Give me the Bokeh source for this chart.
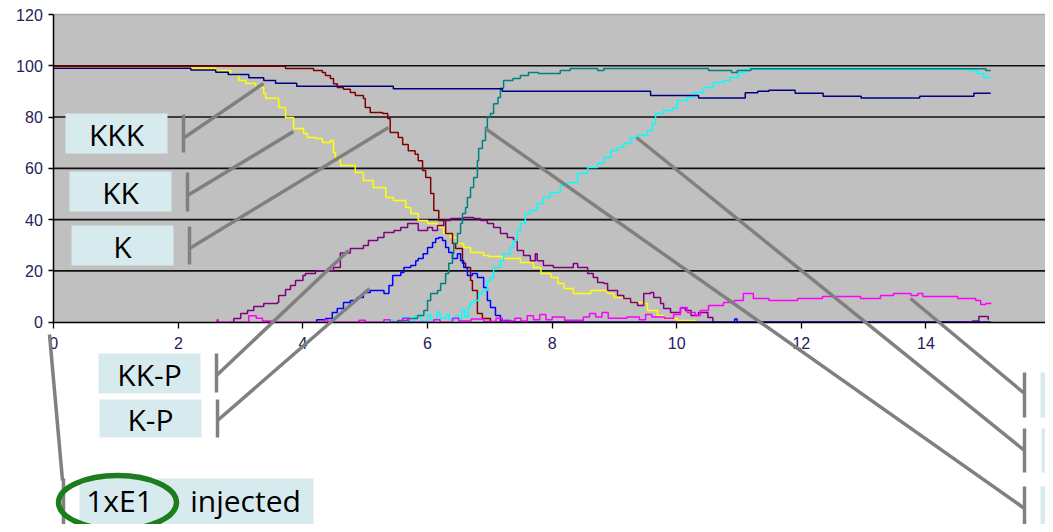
from bokeh.plotting import figure
from bokeh.models import Range1d, LinearAxis, FixedTicker
from bokeh.embed import file_html
from bokeh.resources import INLINE
from bokeh.core.properties import value

# ---------------- data (time, amount) ----------------
x_ticks = [0, 2, 4, 6, 8, 10, 12, 14, 16]
y_ticks = [0, 20, 40, 60, 80, 100, 120]
grid_levels = [20, 40, 60, 80, 100]

kkk_t = [0, 2.2, 2.6, 2.8, 3.13, 3.37, 3.56, 3.9, 5.45, 7.2, 9.58, 10.35, 11.1, 11.3, 11.48, 11.9, 12.35, 12.96, 13.9, 14.77, 15.04]
kkk_v = [99, 98.4, 97.5, 96.6, 95.3, 94.3, 93.2, 92, 91, 90.1, 88.4, 87.4, 89.5, 90.1, 90.5, 89.3, 88.1, 87.4, 88.1, 89.3, 89.3]

kk_t = [0, 2.6, 2.84, 2.97, 3.08, 3.24, 3.37, 3.4, 3.61, 3.72, 3.85, 4.01, 4.07, 4.2, 4.31, 4.44, 4.49, 4.52, 4.6, 4.84,
        4.97, 5.13, 5.33, 5.45, 5.65, 5.73, 5.85, 6.0, 6.16, 6.26, 6.37, 6.48, 6.58, 6.69, 6.9, 6.98, 7.2, 7.49, 7.7, 7.82,
        7.98, 8.09, 8.19, 8.34, 8.62, 8.89, 8.99, 9.15, 9.26, 9.47, 9.53, 9.69, 9.79, 10.01, 10.3]
kk_v = [99, 98.2, 96.6, 94.3, 93.1, 91.5, 89.2, 87.3, 83.7, 79.8, 75.5, 73.6, 72, 71.6, 70.1, 70.9, 66.2, 63.8, 61.1, 58.4,
        55.3, 52.5, 48.6, 47.5, 44.7, 42.4, 39.7, 38.5, 36.9, 34.6, 33, 30.7, 29.1, 27.2, 26, 25.6, 24.8, 23.3, 21.3, 19,
        17.4, 15.1, 13.1, 11.2, 12.4, 11.2, 9.6, 9.2, 7.7, 7.3, 4.6, 2.6, 1.4, 0.7, 0]

k_t = [0, 3.72, 4.17, 4.31, 4.36, 4.44, 4.49, 4.55, 4.65, 4.76, 4.84, 4.97, 5.0, 5.08, 5.28, 5.36, 5.4, 5.53, 5.6, 5.69,
       5.8, 5.85, 5.92, 5.97, 6.05, 6.1, 6.18, 6.29, 6.4, 6.45, 6.56, 6.61, 6.69, 6.72, 6.8, 6.88, 7.01, 15.04]
k_v = [99.8, 98.9, 98.2, 97.4, 96.2, 95, 93, 91.5, 90.8, 89.6, 88.4, 87.2, 83.7, 81.8, 81.4, 79.4, 74, 72, 69.3, 66.9,
       65.5, 63, 59.2, 56.4, 50.2, 43.6, 39.7, 34.6, 30.7, 28.7, 23, 21.3, 16.3, 12.4, 3.4, 1.4, 0, 0]

kkp_t = [2.84, 2.89, 3.0, 3.11, 3.21, 3.37, 3.59, 3.61, 3.72, 3.8, 3.88, 4.0, 4.04, 4.2, 4.49, 4.6, 4.76, 4.97, 5.05, 5.2,
         5.3, 5.46, 5.57, 5.68, 5.85, 6.0, 6.08, 6.16, 6.26, 6.37, 6.58, 6.74, 6.85, 6.96, 7.06, 7.17, 7.28, 7.38, 7.44, 7.54,
         7.65, 7.73, 7.76, 7.86, 8.02, 8.34, 8.41, 8.57, 8.66, 8.73, 8.83, 8.89, 9.05, 9.15, 9.26, 9.37, 9.47, 9.58, 9.63, 9.74,
         9.79, 9.9, 10.06, 10.14, 10.23, 10.35, 10.5, 10.58, 14.75, 14.85, 15.0]
kkp_v = [0, 1.4, 3.4, 4.6, 6.1, 7.3, 7.7, 10.4, 12.8, 14.3, 16.3, 18.2, 19, 20, 21.3, 27, 28.7, 29.9, 31.9, 33,
         35, 35.8, 36.9, 38.5, 35.8, 36.9, 35.8, 37.7, 39.7, 40.4, 40.8, 40.4, 39.7, 38.5, 36.9, 34.6, 33, 31.9, 28, 26,
         24, 26.7, 24, 22.1, 21.3, 22.9, 21.3, 19, 17.4, 15.5, 15.1, 12.4, 10.4, 9.2, 7.7, 6.5, 11.2, 11.6, 9.6, 7.3,
         5.3, 3.8, 5.5, 4.6, 2.6, 3.8, 1.8, 0, 0.5, 2.2, 1]

kp_t = [4.2, 4.22, 4.36, 4.47, 4.55, 4.65, 4.76, 4.87, 4.97, 5.08, 5.3, 5.38, 5.44, 5.57, 5.62, 5.73, 5.81, 5.85, 5.93, 6.0,
        6.08, 6.13, 6.18, 6.24, 6.29, 6.34, 6.4, 6.48, 6.53, 6.58, 6.64, 6.72, 6.8, 6.9, 6.96, 7.01, 7.09, 7.17, 7.33, 10.93,
        10.97, 15.04]
kp_v = [0, 1, 1.4, 3.8, 5.3, 7.7, 8.5, 9.6, 11.6, 12.4, 11.2, 14.3, 18.2, 19.4, 21.3, 22.1, 24, 24.8, 26.7, 29.1,
        31.1, 32.6, 33, 31.9, 29.1, 27.2, 24.8, 26.7, 24, 21.3, 18.2, 19, 17.4, 13.5, 8.5, 5.7, 2.6, 0.7, 0, 1.2,
        0, 0]

kkpp_t = [5.41, 5.52, 5.68, 5.84, 5.94, 6.0, 6.05, 6.16, 6.21, 6.29, 6.34, 6.4, 6.42, 6.48, 6.53, 6.56, 6.61, 6.64, 6.69, 6.74,
          6.8, 6.82, 6.88, 6.93, 6.96, 7.01, 7.06, 7.13, 7.17, 7.22, 7.37, 7.49, 7.62, 7.78, 8.13, 8.29, 8.73, 8.83, 10.51, 10.88,
          10.97, 11.19, 14.96, 15.04]
kkpp_v = [0, 0.7, 1.4, 2.6, 4.6, 8.5, 11.2, 12.4, 15.1, 19, 23, 26.7, 30.7, 34.6, 38.5, 42.4, 44.7, 48.6, 52.5, 56.4,
          63, 67.7, 70.9, 75.9, 79.8, 81.4, 85.2, 87.6, 91.2, 94.3, 95, 96.2, 97.4, 97, 98.2, 98.9, 98.2, 98.9, 98.2, 97.4,
          98.2, 98.8, 98.2, 98.2]

kpp_t = [5.2, 5.35, 5.45, 5.6, 5.7, 5.8, 5.9, 6.0, 6.05, 6.15, 6.2, 6.3, 6.35, 6.45, 6.5, 6.55, 6.6, 6.65, 6.69, 6.74,
         6.82, 6.88, 6.96, 7.01, 7.06, 7.17, 7.22, 7.33, 7.38, 7.44, 7.49, 7.57, 7.65, 7.76, 7.86, 7.97, 8.13, 8.24, 8.41, 8.57,
         8.73, 8.83, 8.94, 9.05, 9.15, 9.26, 9.37, 9.53, 9.61, 9.66, 9.79, 9.93, 10.01, 10.17, 10.27, 10.43, 10.59, 10.75, 10.86, 10.99,
         11.1, 14.72, 14.83, 14.93, 15.04]
kpp_v = [0, 1, 0, 2, 0.5, 2.5, 0.5, 3, 1, 4, 1.5, 3, 1, 2.5, 1, 5, 2, 6, 7.7, 8.5,
         11.2, 12.4, 16.3, 17.4, 21.3, 24, 26.7, 29.1, 31.9, 35.8, 38.5, 42.4, 43.6, 46.3, 48.6, 50.6, 53.3, 54.5, 58, 60.3,
         61.9, 64.2, 67, 68.1, 69.7, 72, 72.8, 74.8, 77.5, 81.4, 82.6, 83.4, 86.5, 87.6, 89.6, 91.5, 93.5, 94.3, 95.4, 97.4,
         98.6, 98.2, 97, 95.4, 95.4]

kkkp_t = [2.6, 2.62, 2.64, 3.1, 3.13, 3.25, 3.35, 3.5, 4.3, 4.35, 4.4, 4.9, 5.0, 5.3, 5.4, 5.6, 5.7, 6.1, 6.2, 6.4,
          6.5, 6.7, 6.9, 7.1, 7.2, 7.4, 7.5, 7.6, 7.7, 7.8, 7.9, 8.0, 8.2, 8.5, 8.6, 8.7, 8.8, 8.9, 9.2, 9.4,
          9.5, 9.6, 9.8, 9.95, 10.06, 10.17, 10.3, 10.38, 10.51, 10.75, 10.92, 11.07, 11.23, 11.48, 11.94, 12.34, 12.95, 13.27, 13.48, 13.76,
          13.87, 13.95, 14.51, 14.8, 14.88, 14.96, 15.04]
kkkp_v = [0, 1, 0, 0, 2.5, 1.5, 0.5, 0, 0, 1, 0, 0.8, 0, 1, 0, 1.5, 0, 1, 0, 1.5,
          0.5, 1.2, 0.3, 1.5, 0.5, 1.5, 0.5, 2.5, 1, 3, 1, 2, 0.8, 2, 3.4, 2, 3.8, 1.5, 2, 1,
          3, 2, 1.5, 3, 5.7, 3.8, 2.6, 4.6, 6.5, 7.7, 8.5, 11.2, 9.2, 8.5, 9.2, 10, 9.2, 10.4, 11.2, 10.4,
          11.2, 10, 9.2, 8.5, 6.9, 7.3, 7.7]

# ---------------- layout helpers (picture pixel -> data) ----------------
W, H = 1045, 524
OFF = 0
X0PX, X16PX = 53.3, 1050.0
Y0PX, Y120PX = 321.7, 14.0
SX = (X16PX - X0PX) / 16.0
SY = (Y0PX - Y120PX) / 120.0


def dx(px):
    return (px - X0PX) / SX


def dy(py):
    return (Y0PX - py) / SY


p = figure(width=W, height=H,
           x_range=Range1d(dx(OFF), dx(OFF + W)),
           y_range=Range1d(dy(OFF + H), dy(OFF)),
           output_backend="svg", toolbar_location=None,
           x_axis_type=None, y_axis_type=None,
           min_border=0, min_border_left=0, min_border_right=0,
           min_border_top=0, min_border_bottom=0)
p.outline_line_color = None
p.background_fill_color = "white"
p.border_fill_color = "white"
p.xgrid.visible = False
p.ygrid.visible = False

# plot area background
p.quad(left=[x_ticks[0]], right=[x_ticks[-1]], bottom=[y_ticks[0]], top=[y_ticks[-1]],
       fill_color="#c0c0c0", line_color=None, level="underlay")
# top/right border
p.line([x_ticks[0], x_ticks[-1], x_ticks[-1]], [y_ticks[-1], y_ticks[-1], y_ticks[0]],
       line_color="#a8a8a8", line_width=1.5, level="underlay")
# grid lines
p.segment(x0=[x_ticks[0]] * len(grid_levels), x1=[x_ticks[-1]] * len(grid_levels),
          y0=grid_levels, y1=grid_levels, line_color="#101010", line_width=1.6, level="underlay")

# axes
label_color = "#27215c"
xaxis = LinearAxis(fixed_location=0, bounds=(0, 16), ticker=FixedTicker(ticks=x_ticks))
xaxis.major_tick_out = 6
xaxis.major_tick_in = 0
xaxis.minor_tick_out = 0
xaxis.axis_line_color = "black"
xaxis.axis_line_width = 1.5
xaxis.major_tick_line_width = 1.3
xaxis.major_label_text_font = "Liberation Sans"
xaxis.major_label_text_font_size = "16px"
xaxis.major_label_text_color = label_color
xaxis.major_label_standoff = 9
p.add_layout(xaxis, "below")

yaxis = LinearAxis(fixed_location=0, bounds=(0, 120), ticker=FixedTicker(ticks=y_ticks))
yaxis.major_tick_out = 5
yaxis.major_tick_in = 0
yaxis.minor_tick_out = 0
yaxis.axis_line_color = "black"
yaxis.axis_line_width = 1.5
yaxis.major_tick_line_width = 1.3
yaxis.major_label_text_font = "Liberation Sans"
yaxis.major_label_text_font_size = "16px"
yaxis.major_label_text_color = label_color
yaxis.major_label_standoff = 6
p.add_layout(yaxis, "left")

# series
series = [
    (kk_t, kk_v, "#FFFF00"),
    (k_t, k_v, "#800000"),
    (kkp_t, kkp_v, "#800080"),
    (kp_t, kp_v, "#0000FF"),
    (kpp_t, kpp_v, "#00FFFF"),
    (kkpp_t, kkpp_v, "#008080"),
    (kkkp_t, kkkp_v, "#FF00FF"),
    (kkk_t, kkk_v, "#000080"),
]
for t, v, c in series:
    p.step(t, v, mode="after", line_color=c, line_width=1.5)

# ---------------- annotations ----------------
BOX = "#d7ebee"
GRAY = "#808080"
boxes = [  # left, top, right, bottom (px)
    (65, 113, 167, 153), (69, 171, 171, 211), (71, 225, 173, 265),
    (98, 353, 200, 393), (99, 399, 201, 437), (79, 478, 313, 529),
    (1040, 372, 1070, 417), (1041, 428, 1070, 472), (1040, 486, 1070, 531),
]
p.quad(left=[dx(b[0]) for b in boxes], right=[dx(b[2]) for b in boxes],
       top=[dy(b[1]) for b in boxes], bottom=[dy(b[3]) for b in boxes],
       fill_color=BOX, line_color=None, level="overlay")

leaders = [  # x0, y0, x1, y1 (px)
    (184, 137, 263, 83), (187, 195, 293, 131), (189, 248, 388, 127),
    (216, 375, 348, 250), (217, 420, 369, 288), (49, 334, 62, 480),
    (1024, 393, 910, 298), (1024, 450, 636, 137), (1024, 508, 485, 128),
]
ticks = [  # x, y0, y1 (px)
    (183, 114, 152), (187, 172, 211), (189, 226, 264),
    (216, 353, 392), (217, 399, 437), (63, 478, 529),
    (1024, 372, 417), (1024, 428, 472), (1024, 486, 531),
]
p.segment(x0=[dx(l[0]) for l in leaders], y0=[dy(l[1]) for l in leaders],
          x1=[dx(l[2]) for l in leaders], y1=[dy(l[3]) for l in leaders],
          line_color=GRAY, line_width=3.5, level="overlay")
p.segment(x0=[dx(t[0]) for t in ticks], y0=[dy(t[1]) for t in ticks],
          x1=[dx(t[0]) for t in ticks], y1=[dy(t[2]) for t in ticks],
          line_color=GRAY, line_width=3.5, level="overlay")

labels = [("KKK", 116, 134), ("KK", 120, 192), ("K", 122, 246),
          ("KK-P", 149, 374), ("K-P", 150, 419), ("1xE1", 119, 500), ("injected", 245, 500)]
p.text(x=[dx(l[1]) for l in labels], y=[dy(l[2]) for l in labels], text=[l[0] for l in labels],
       text_font=value("Open Sans"), text_font_size="30px", text_color="black",
       text_align="center", text_baseline="middle", level="overlay")

p.ellipse(x=[dx(117)], y=[dy(502)], width=118, height=54, width_units="screen", height_units="screen",
          fill_color=None, line_color="#1b7d1b", line_width=5.5, level="overlay")

open("out.html", "w").write(file_html(p, INLINE))
